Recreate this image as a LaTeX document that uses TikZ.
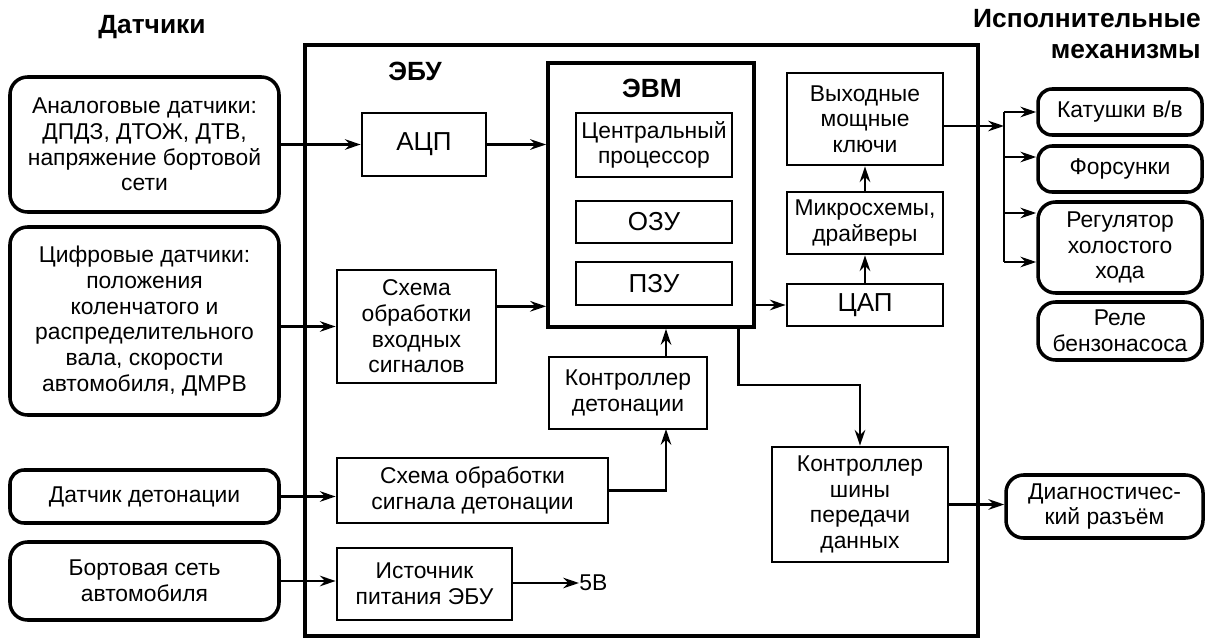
\documentclass[tikz,border=0pt]{standalone}
\usepackage{fontspec}
\setmainfont{Liberation Sans}
\usetikzlibrary{positioning,arrows.meta,calc}
\tikzstyle{sensor} = [draw, rectangle, rounded corners=10pt, line width=2pt, text centered, align=center, inner sep=2pt]
\tikzstyle{unit} = [draw, rectangle, line width=1.5pt, text centered, align=center, inner sep=2pt]
\tikzstyle{frame} = [draw, rectangle, line width=2.6pt, inner sep=0pt]
\tikzstyle{title} = [font=\fontsize{15}{17.6}\selectfont\bfseries, align=center, inner sep=0pt]
\tikzstyle{bigtext} = [font=\fontsize{14.8}{17}\selectfont]
\tikzstyle{line} = [draw, line width=1.5pt, -{Stealth[length=9pt,width=6pt,inset=3pt]}]
\tikzstyle{wire} = [draw, line width=1.5pt]
\tikzset{dims/.style 2 args={minimum width=#1*0.02cm, minimum height=#2*0.02cm}}

\begin{document}
\begin{tikzpicture}[x=0.02cm, y=-0.02cm, font=\fontsize{13}{14.6}\selectfont]
    \useasboundingbox (0,0) rectangle (1208,639);
    % Titles
    \node [title] (sensors-title) at (152,27) {Датчики};
    \node [title, align=right, anchor=east] (actuators-title) at (1201,34) {Исполнительные\\механизмы};
    % ECU frame
    \node [frame, dims={673}{591}] (ecu) at (641.5,340.5) {};
    \node [title] (ecu-title) at (415,71) {ЭБУ};
    % Sensors
    \node [sensor, dims={269}{135}] (analog) at (144.5,144.5) {Аналоговые датчики:\\ДПДЗ, ДТОЖ, ДТВ,\\напряжение бортовой\\сети};
    \node [sensor, dims={269}{188}] (digital) at (144.5,321) {Цифровые датчики:\\положения\\коленчатого и\\распределительного\\вала, скорости\\автомобиля, ДМРВ};
    \node [sensor, dims={269}{53}, rounded corners=8pt] (knock) at (144.5,496.5) {Датчик детонации};
    \node [sensor, dims={269}{78}] (onboard) at (144.5,581) {Бортовая сеть\\автомобиля};
    % ECU blocks
    \node [unit, bigtext, dims={124}{63}] (adc) at (424,144.5) {АЦП};
    \node [frame, line width=2.2pt, dims={206}{264}] (evm) at (651,195) {};
    \node [title] (evm-title) at (652,88) {ЭВМ};
    \node [unit, dims={156}{64}] (cpu) at (654,145) {Центральный\\процессор};
    \node [unit, bigtext, dims={156}{42}] (ram) at (654,222) {ОЗУ};
    \node [unit, bigtext, dims={156}{43}] (rom) at (654,283.5) {ПЗУ};
    \node [unit, dims={159}{113}] (inproc) at (416.5,326.5) {Схема\\обработки\\входных\\сигналов};
    \node [unit, dims={271}{65}] (knockproc) at (472.5,490.5) {Схема обработки\\сигнала детонации};
    \node [unit, dims={175}{72}] (psu) at (424.5,584) {Источник\\питания ЭБУ};
    \node [anchor=west, inner sep=0pt] (v5) at (579,583) {5В};
    \node [unit, dims={158}{72}] (knockctl) at (628,393) {Контроллер\\детонации};
    \node [unit, dims={176}{115}] (busctl) at (860,504.5) {Контроллер\\шины\\передачи\\данных};
    \node [unit, bigtext, dims={156}{42}] (dac) at (865,305) {ЦАП};
    \node [unit, dims={156}{62}] (drivers) at (865,223) {Микросхемы,\\драйверы};
    \node [unit, dims={156}{92}] (keys) at (865,119) {Выходные\\мощные\\ключи};
    % Actuators
    \node [sensor, dims={164}{46}, rounded corners=8pt] (coils) at (1120,112) {Катушки в/в};
    \node [sensor, dims={164}{46}, rounded corners=8pt] (injectors) at (1120,169) {Форсунки};
    \node [sensor, dims={164}{91}] (idle) at (1120,247.5) {Регулятор\\холостого\\хода};
    \node [sensor, dims={164}{58}] (pump) at (1120,331) {Реле\\бензонасоса};
    \node [sensor, dims={197}{63}] (diag) at (1104.5,506.5) {Диагностичес-\\кий разъём};
    % Draw edges
    \path [line] (analog.east) -- (adc.west);
    \path [line] (adc.east) -- (adc.east -| evm.west);
    \path [line] (digital.east |- inproc.west) -- (inproc.west);
    \path [line] (inproc.east |- rom.south) -- (evm.west |- rom.south);
    \path [line] (knock.east) -- (knock.east -| knockproc.west);
    \path [line] (onboard.east) -- (onboard.east -| psu.west);
    \path [line] (psu.east |- v5.west) -- (v5.west);
    \coordinate (kc) at (666,429);
    \path [line] (knockproc.east) -| (kc);
    \path [line] (kc |- knockctl.north) -- (kc |- evm.south);
    \path [line] (evm.east |- dac.west) -- (dac.west);
    \path [line] (dac.north) -- (drivers.south);
    \path [line] (drivers.north) -- (keys.south);
    \coordinate (split) at (1004,126);
    \coordinate (b2) at (1004,157);
    \coordinate (b3) at (1004,213);
    \coordinate (b4) at (1004,262);
    \path [line] (keys.east |- split) -- (split);
    \path [wire] (split |- coils.west) -- (b4);
    \path [line] (split |- coils.west) -- (coils.west);
    \path [line] (b2) -- (b2 -| injectors.west);
    \path [line] (b3) -- (b3 -| idle.west);
    \path [line] (b4) -- (b4 -| idle.west);
    \coordinate (tap) at ($(evm.south west)!.917!(evm.south east)$);
    \path [line] (tap) -- ++(0,56) -| (busctl.north);
    \path [line] (busctl.east) -- (busctl.east -| diag.west);
\end{tikzpicture}
\end{document}
